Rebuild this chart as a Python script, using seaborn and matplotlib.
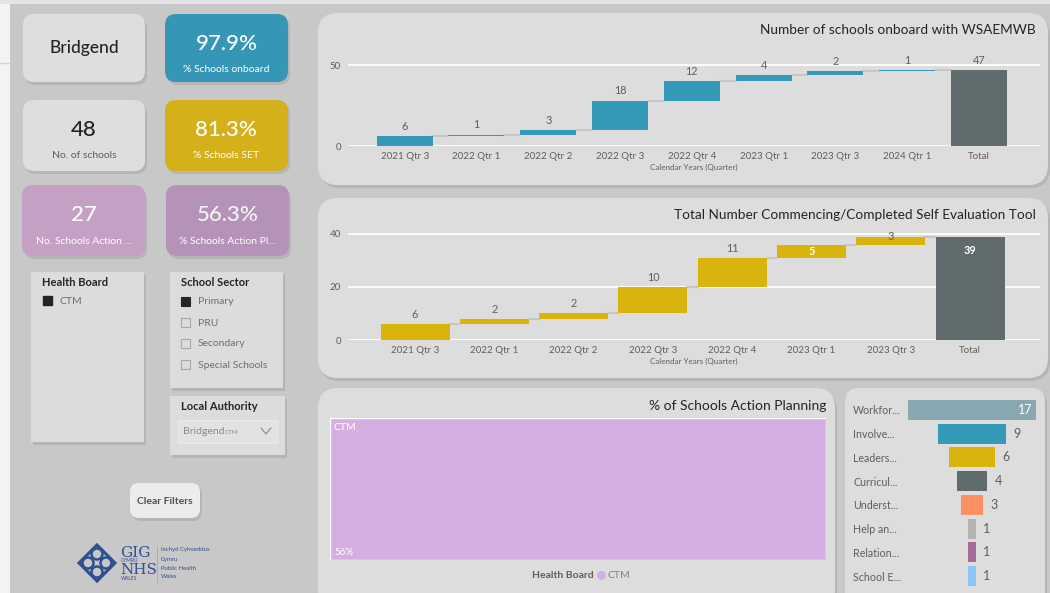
import numpy as np
import matplotlib.pyplot as plt
from matplotlib.patches import FancyBboxPatch, Rectangle, Circle, Polygon
import seaborn as sns

sns.set_style('white')
plt.rcParams['font.family'] = ['Lato', 'DejaVu Sans']

# KPI cards
kpi_values = ['Bridgend', '97.9%', '48', '81.3%', '27', '56.3%']
kpi_labels = ['', '% Schools onboard', 'No. of schools', '% Schools SET',
              'No. Schools Action ...', '% Schools Action Pl...']

# Slicers
health_boards = ['CTM']
school_sectors = ['Primary', 'PRU', 'Secondary', 'Special Schools']
sector_selected = [True, False, False, False]
local_authority = 'Bridgend'

# Waterfall: schools onboard
onboard_quarters = ['2021 Qtr 3', '2022 Qtr 1', '2022 Qtr 2', '2022 Qtr 3',
                    '2022 Qtr 4', '2023 Qtr 1', '2023 Qtr 3', '2024 Qtr 1']
onboard_counts = [6, 1, 3, 18, 12, 4, 2, 1]
onboard_ticks = [0, 50]

# Waterfall: self evaluation tool
set_quarters = ['2021 Qtr 3', '2022 Qtr 1', '2022 Qtr 2', '2022 Qtr 3',
                '2022 Qtr 4', '2023 Qtr 1', '2023 Qtr 3']
set_counts = [6, 2, 2, 10, 11, 5, 3]
set_ticks = [0, 20, 40]

# Treemap: % action planning
action_board = ['CTM']
action_pct = [56]

# Funnel: themes
theme_labels = ['Workfor...', 'Involve...', 'Leaders...', 'Curricul...',
                'Underst...', 'Help an...', 'Relation...', 'School E...']
theme_counts = [17, 9, 6, 4, 3, 1, 1, 1]
theme_colors = ['#89a7b1', '#3599b8', '#d9b40c', '#5f6b6d',
                '#fd9162', '#b3b3b3', '#a66999', '#8ac6f4']

W, H = 1050, 593
TXT = '#605e5c'
DARK = '#252423'
PANEL = '#dddddd'

fig = plt.figure(figsize=(W / 100, H / 100), dpi=100)
fig.patch.set_facecolor('#c8c8c8')

bg = fig.add_axes([0, 0, 1, 1])
bg.set_xlim(0, W)
bg.set_ylim(H, 0)
bg.axis('off')


def px_rect(x0, y0, x1, y1):
    return [x0 / W, 1 - y1 / H, (x1 - x0) / W, (y1 - y0) / H]


def box(x0, y0, x1, y1, color, r=10, shadow=True, z=1, ec='none'):
    style = f'round,pad=0,rounding_size={r}' if r > 0 else 'square,pad=0'
    if shadow:
        bg.add_patch(FancyBboxPatch((x0 + 2, y0 + 3), x1 - x0, y1 - y0, boxstyle=style,
                                    fc='#a3a3a3', ec='none', alpha=0.5, zorder=z))
    bg.add_patch(FancyBboxPatch((x0, y0), x1 - x0, y1 - y0, boxstyle=style,
                                fc=color, ec=ec, lw=0.8, zorder=z + 0.1))


# page edges
bg.add_patch(Rectangle((0, 0), 10, H, fc='#f3f3f3', ec='none', zorder=0.5))
bg.add_patch(Rectangle((0, 0), W, 4, fc='#e4e4e4', ec='none', zorder=0.5))
bg.plot([0, 10], [63, 63], color='#d2d2d2', lw=1, zorder=0.6)

# KPI cards
card_boxes = [(23, 14, 145, 82), (165, 14, 288, 82), (23, 100, 145, 171),
              (165, 100, 288, 171), (22, 185, 145, 256), (166, 185, 289, 256)]
card_colors = ['#dedede', '#3596b5', '#dedede', '#d4b01b', '#c5a0c5', '#b592b7']
value_colors = [DARK, 'white', DARK, 'white', 'white', '#f4f4f4']
label_colors = [TXT, 'white', TXT, 'white', 'white', 'white']
for (x0, y0, x1, y1), c, val, lab, vc, lc in zip(card_boxes, card_colors, kpi_values,
                                                 kpi_labels, value_colors, label_colors):
    box(x0, y0, x1, y1, c, r=11)
    cx = (x0 + x1) / 2
    if lab:
        bg.text(cx, y0 + 30, val, ha='center', va='center', fontsize=16, fontweight='medium',
                color=vc, zorder=3)
        bg.text(cx, y0 + 56, lab, ha='center', va='center', fontsize=7.5, color=lc, zorder=3)
    else:
        bg.text(cx, (y0 + y1) / 2, val, ha='center', va='center', fontsize=12.5,
                fontweight='medium', color=vc, zorder=3)

# slicers
box(31, 272, 144, 442, '#dcdcdc', r=0)
bg.text(42, 283, 'Health Board', fontsize=8, fontweight='bold', color=DARK, va='center', zorder=3)
for i, hb in enumerate(health_boards):
    bg.add_patch(Rectangle((43, 296 + 21 * i), 9, 9, fc='#252423', ec='#252423', zorder=3))
    bg.text(60, 301 + 21 * i, hb, fontsize=7.5, color='#707070', va='center', zorder=3)

box(170, 272, 283, 388, '#dcdcdc', r=0)
bg.text(181, 283, 'School Sector', fontsize=8, fontweight='bold', color=DARK, va='center', zorder=3)
for i, (s, sel) in enumerate(zip(school_sectors, sector_selected)):
    y = 302 + 21 * i
    bg.add_patch(Rectangle((181, y - 5), 9, 9, fc='#252423' if sel else 'none',
                           ec='#252423' if sel else '#a8a8a8', lw=0.8, zorder=3))
    bg.text(198, y, s, fontsize=7.5, color='#707070', va='center', zorder=3)

box(170, 396, 285, 455, '#dcdcdc', r=0)
bg.text(181, 407, 'Local Authority', fontsize=8, fontweight='bold', color=DARK, va='center', zorder=3)
bg.add_patch(Rectangle((178, 420), 99, 23, fc='#e2e2e2', ec='#e8e8e8', lw=0.8, zorder=3))
bg.text(183, 432, local_authority, fontsize=7.5, color='#8a8a8a', va='center', zorder=4)
bg.text(224.5, 433, 'CTM', fontsize=4.5, color='#8a8a8a', va='center', zorder=4)
bg.plot([261, 266, 271], [428, 434, 428], color='#8a8a8a', lw=0.8, zorder=4)

box(130, 483, 200, 518, '#ececec', r=9)
bg.text(165, 501, 'Clear Filters', fontsize=7.5, fontweight='bold', color='#505050',
        ha='center', va='center', zorder=3)

# logo
navy = '#2f4f8f'
bg.add_patch(Polygon([(97, 545), (115, 563), (97, 581), (79, 563)], closed=True,
                     fc='none', ec=navy, lw=2.2, zorder=3))
for dx, dy in [(0, -9), (9, 0), (0, 9), (-9, 0)]:
    bg.add_patch(Circle((97 + dx, 563 + dy), 5.5, fc='none', ec=navy, lw=1.8, zorder=3))
bg.text(120, 553, 'GIG', fontsize=11, family='DejaVu Serif', color=navy, va='center', zorder=3)
bg.text(121, 561, 'CYMRU', fontsize=3.5, color=navy, va='center', zorder=3)
bg.text(120, 570, 'NHS', fontsize=11, family='DejaVu Serif', color=navy, va='center', zorder=3)
bg.text(121, 579, 'WALES', fontsize=3.5, color=navy, va='center', zorder=3)
bg.plot([157, 157], [546, 582], color='#9aa8c4', lw=0.6, zorder=3)
for j, t in enumerate(['Iechyd Cyhoeddus', 'Cymru', 'Public Health', 'Wales']):
    bg.text(161, 550 + 9 * j, t, fontsize=4.3, color=navy, va='center', zorder=3)

# chart panels
box(318, 13, 1048, 185, PANEL, r=20)
box(318, 198, 1048, 378, PANEL, r=20)
box(318, 388, 835, 610, PANEL, r=20)
box(845, 388, 1045, 610, PANEL, r=14)


def waterfall(ax, cats, counts, color, width, ticks, ylim, xlim, inside=(), edge=()):
    order = cats + ['Total']
    counts = np.array(counts)
    ends = np.cumsum(counts)
    starts = ends - counts
    sns.barplot(x=cats, y=counts, bottom=starts, order=order, color=color, width=width,
                saturation=1, edgecolor='none', ax=ax, zorder=3)
    sns.barplot(x=['Total'], y=[ends[-1]], order=order, color='#5f6b6d', width=width,
                saturation=1, edgecolor='none', ax=ax, zorder=3)
    # connectors between bars
    for i, e in enumerate(ends):
        ax.plot([i + width / 2, i + 1 - width / 2], [e, e], color='#c6c6c6', lw=1.5, zorder=2)
    for i, (c, e) in enumerate(zip(counts, ends)):
        if i in inside:
            ax.text(i, e - c / 2, str(c), ha='center', va='center', fontsize=7.8,
                    color='white', fontweight='bold', zorder=4)
        elif i in edge:
            ax.text(i, e, str(c), ha='center', va='center', fontsize=7.8, color=TXT, zorder=4)
        else:
            ax.annotate(str(c), (i, e), xytext=(0, 3), textcoords='offset points',
                        ha='center', va='bottom', fontsize=7.8, color=TXT, zorder=4,
                        annotation_clip=False)
    ax.set_xlim(*xlim)
    ax.set_ylim(*ylim)
    ax.set_yticks(ticks)
    ax.set_facecolor('none')
    ax.grid(axis='y', color='white', lw=1.3)
    ax.grid(axis='x', visible=False)
    ax.set_axisbelow(True)
    sns.despine(ax=ax, left=True, bottom=True)
    ax.tick_params(axis='both', length=0, labelsize=7, labelcolor=TXT)
    ax.tick_params(axis='x', pad=4)
    ax.tick_params(axis='y', pad=5)
    ax.set_ylabel('')
    ax.set_xlabel('Calendar Years (Quarter)', fontsize=5.8, color=TXT, labelpad=2)
    return ends[-1], len(cats)


ax1 = fig.add_axes(px_rect(348, 60, 1040, 146))
tot1, n1 = waterfall(ax1, onboard_quarters, onboard_counts, '#3599b8', 0.78,
                     onboard_ticks, (0, 53.1), (-0.79, 8.85))
ax1.annotate(str(tot1), (n1, tot1), xytext=(0, 3), textcoords='offset points',
             ha='center', va='bottom', fontsize=7.8, color=TXT, annotation_clip=False)
bg.text(1036, 30, 'Number of schools onboard with WSAEMWB', ha='right', va='center',
        fontsize=9.8, color=DARK, zorder=3)

ax2 = fig.add_axes(px_rect(348, 228, 1040, 340))
tot2, n2 = waterfall(ax2, set_quarters, set_counts, '#d9b40c', 0.87,
                     set_ticks, (0, 42.26), (-0.845, 7.88), inside=(5,), edge=(6,))
ax2.annotate(str(tot2), (n2, tot2), xytext=(0, -6), textcoords='offset points',
             ha='center', va='top', fontsize=7.8, color='white', fontweight='bold')
bg.text(1036, 215, 'Total Number Commencing/Completed Self Evaluation Tool', ha='right',
        va='center', fontsize=9.8, color=DARK, zorder=3)

# treemap
ax3 = fig.add_axes(px_rect(330, 418, 826, 560))
sns.barplot(x=action_board, y=action_pct, color='#d6afe2', width=1, saturation=1,
            edgecolor='white', linewidth=1, ax=ax3)
ax3.set_xlim(-0.5, 0.5)
ax3.set_ylim(0, action_pct[0])
ax3.axis('off')
ax3.text(0.008, 0.93, action_board[0], transform=ax3.transAxes, fontsize=7.5, color='white',
         va='center')
ax3.text(0.008, 0.05, f'{action_pct[0]}%', transform=ax3.transAxes, fontsize=7,
         color='white', va='center')
bg.text(826, 406, '% of Schools Action Planning', ha='right', va='center', fontsize=10,
        color=DARK, zorder=3)
bg.text(594, 575, 'Health Board', ha='right', va='center', fontsize=7.5, fontweight='bold',
        color=TXT, zorder=3)
bg.scatter([601], [575], s=30, color='#d6afe2', zorder=3)
bg.text(607, 575, action_board[0], ha='left', va='center', fontsize=7.5, color='#808080', zorder=3)

# funnel
ax4 = fig.add_axes(px_rect(905, 398, 1040, 588))
sns.barplot(x=theme_counts, y=theme_labels, hue=theme_labels, palette=theme_colors,
            orient='h', width=0.85, saturation=1, legend=False, edgecolor='none', ax=ax4)
for p in ax4.patches:
    p.set_x(-p.get_width() / 2)
ax4.set_xlim(-8.9, 9.03)
ax4.set_ylim(7.5, -0.5)
ax4.set_facecolor('none')
sns.despine(ax=ax4, left=True, bottom=True)
ax4.set_xticks([])
ax4.set_xlabel('')
ax4.set_ylabel('')
ax4.tick_params(axis='y', length=0, pad=37.4, labelsize=7.7, labelcolor=TXT)
for lbl in ax4.get_yticklabels():
    lbl.set_horizontalalignment('left')
for i, v in enumerate(theme_counts):
    if i == 0:
        ax4.text(v / 2 - 0.5, i, str(v), ha='right', va='center', fontsize=9, color='white')
    else:
        ax4.text(v / 2 + 1.0, i, str(v), ha='left', va='center', fontsize=9, color=TXT)

fig.savefig('out.png', dpi=100, facecolor=fig.get_facecolor())
